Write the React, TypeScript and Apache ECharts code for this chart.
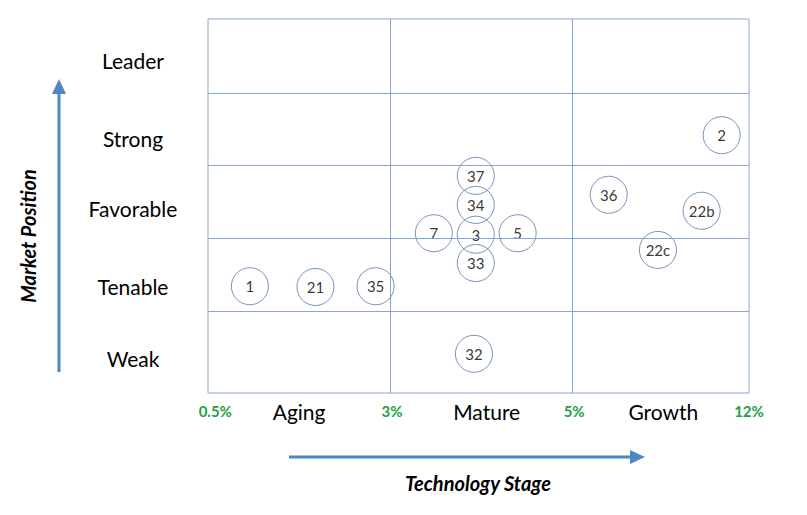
import React, { useEffect, useRef } from "react";
import * as echarts from "echarts";

// Technology stage (x, in column units: 0 = 0.5%, 1 = 3%, 2 = 5%, ~3 = 12%)
const pointIds = ["1", "21", "35", "7", "3", "5", "37", "34", "33", "32", "36", "22b", "22c", "2"];
const stageValues = [0.23, 0.59, 0.92, 1.24, 1.47, 1.7, 1.47, 1.47, 1.47, 1.46, 2.2, 2.71, 2.47, 2.82];
// Market position (y, row units: 0 = Weak bottom ... 5 = Leader top)
const positionValues = [1.34, 1.33, 1.34, 2.07, 2.05, 2.07, 2.86, 2.46, 1.66, 0.41, 2.6, 2.38, 1.84, 3.42];

const growthTickValues = [0.04, 1.01, 2.01, 2.97];
const growthTickLabels = ["0.5%", "3%", "5%", "12%"];
const stageCenters = [0.5, 1.53, 2.5];
const stageNames = ["Aging", "Mature", "Growth"];
const stageBoundaries = [1, 2];

const positionLabelValues = [0.35, 1.34, 2.41, 3.37, 4.45];
const positionNames = ["Weak", "Tenable", "Favorable", "Strong", "Leader"];
const positionBoundaries = [1, 2, 3, 4];

const FONT = "Lato";
const GRID_COLOR = "#88a6d4";
const CIRCLE_COLOR = "#5278a8";
const ARROW_COLOR = "#4f86c6";
const TEXT_COLOR = "#000000";

export default function App() {
  const ref = useRef<HTMLDivElement>(null);

  useEffect(() => {
    if (!ref.current) return;
    const chart = echarts.init(ref.current, undefined, { renderer: "svg" });

    const xCustom = [...growthTickValues, ...stageCenters].sort((a, b) => a - b);
    const xFormatter = (v: number) => {
      for (let i = 0; i < growthTickValues.length; i++)
        if (Math.abs(v - growthTickValues[i]) < 1e-6) return `{g|${growthTickLabels[i]}}`;
      for (let i = 0; i < stageCenters.length; i++)
        if (Math.abs(v - stageCenters[i]) < 1e-6) return `{s|${stageNames[i]}}`;
      return "";
    };
    const yFormatter = (v: number) => {
      for (let i = 0; i < positionLabelValues.length; i++)
        if (Math.abs(v - positionLabelValues[i]) < 1e-6) return positionNames[i];
      return "";
    };

    const option: any = {
      animation: false,
      textStyle: { fontFamily: FONT },
      grid: {
        left: 208,
        top: 19,
        right: 58,
        bottom: 122,
        show: true,
        borderColor: GRID_COLOR,
        borderWidth: 1,
        backgroundColor: "transparent",
      },
      xAxis: {
        type: "value",
        min: 0,
        max: 2.97,
        axisLine: { show: false },
        axisTick: { show: false },
        splitLine: { show: false },
        axisLabel: {
          customValues: xCustom,
          formatter: xFormatter,
          margin: 6,
          rich: {
            g: { fontFamily: FONT, fontSize: 15, fontWeight: "bold", color: "#22a043", lineHeight: 24 },
            s: { fontFamily: FONT, fontSize: 21, color: TEXT_COLOR, lineHeight: 24 },
          },
        },
      },
      yAxis: {
        type: "value",
        min: -0.13,
        max: 5.02,
        axisLine: { show: false },
        axisTick: { show: false },
        splitLine: { show: false },
        axisLabel: {
          customValues: positionLabelValues,
          formatter: yFormatter,
          margin: 75,
          align: "center",
          fontFamily: FONT,
          fontSize: 21,
          color: TEXT_COLOR,
        },
      },
      series: [
        {
          type: "scatter",
          symbol: "circle",
          symbolSize: 37,
          data: pointIds.map((id, i) => ({ name: id, value: [stageValues[i], positionValues[i]] })),
          itemStyle: { color: "rgba(0,0,0,0)", borderColor: CIRCLE_COLOR, borderWidth: 1 },
          label: {
            show: true,
            position: "inside",
            formatter: "{b}",
            fontFamily: FONT,
            fontSize: 15,
            color: TEXT_COLOR,
          },
          markLine: {
            silent: true,
            symbol: ["none", "none"],
            label: { show: false },
            lineStyle: { color: GRID_COLOR, width: 1, type: "solid" },
            data: [
              ...stageBoundaries.map((v) => ({ xAxis: v })),
              ...positionBoundaries.map((v) => ({ yAxis: v })),
            ],
          },
        },
      ],
      graphic: [
        { type: "line", shape: { x1: 59, y1: 372, x2: 59, y2: 92 }, style: { stroke: ARROW_COLOR, lineWidth: 3 } },
        { type: "polygon", shape: { points: [[59, 79], [52, 94], [66, 94]] }, style: { fill: ARROW_COLOR } },
        { type: "line", shape: { x1: 289, y1: 457, x2: 632, y2: 457 }, style: { stroke: ARROW_COLOR, lineWidth: 3 } },
        { type: "polygon", shape: { points: [[645, 457], [630, 450], [630, 464]] }, style: { fill: ARROW_COLOR } },
        {
          type: "text",
          x: 478,
          y: 483,
          style: {
            text: "Technology Stage",
            font: `italic bold 20px ${FONT}`,
            fill: TEXT_COLOR,
            align: "center",
            verticalAlign: "middle",
          },
        },
        {
          type: "text",
          x: 28,
          y: 236,
          rotation: Math.PI / 2,
          style: {
            text: "Market Position",
            font: `italic bold 20px ${FONT}`,
            fill: TEXT_COLOR,
            align: "center",
            verticalAlign: "middle",
          },
        },
      ],
    };

    chart.setOption(option);
    return () => chart.dispose();
  }, []);

  return (
    <div
      ref={ref}
      style={{ position: "absolute", left: 0, top: 0, width: 807, height: 515, background: "#ffffff" }}
    />
  );
}
